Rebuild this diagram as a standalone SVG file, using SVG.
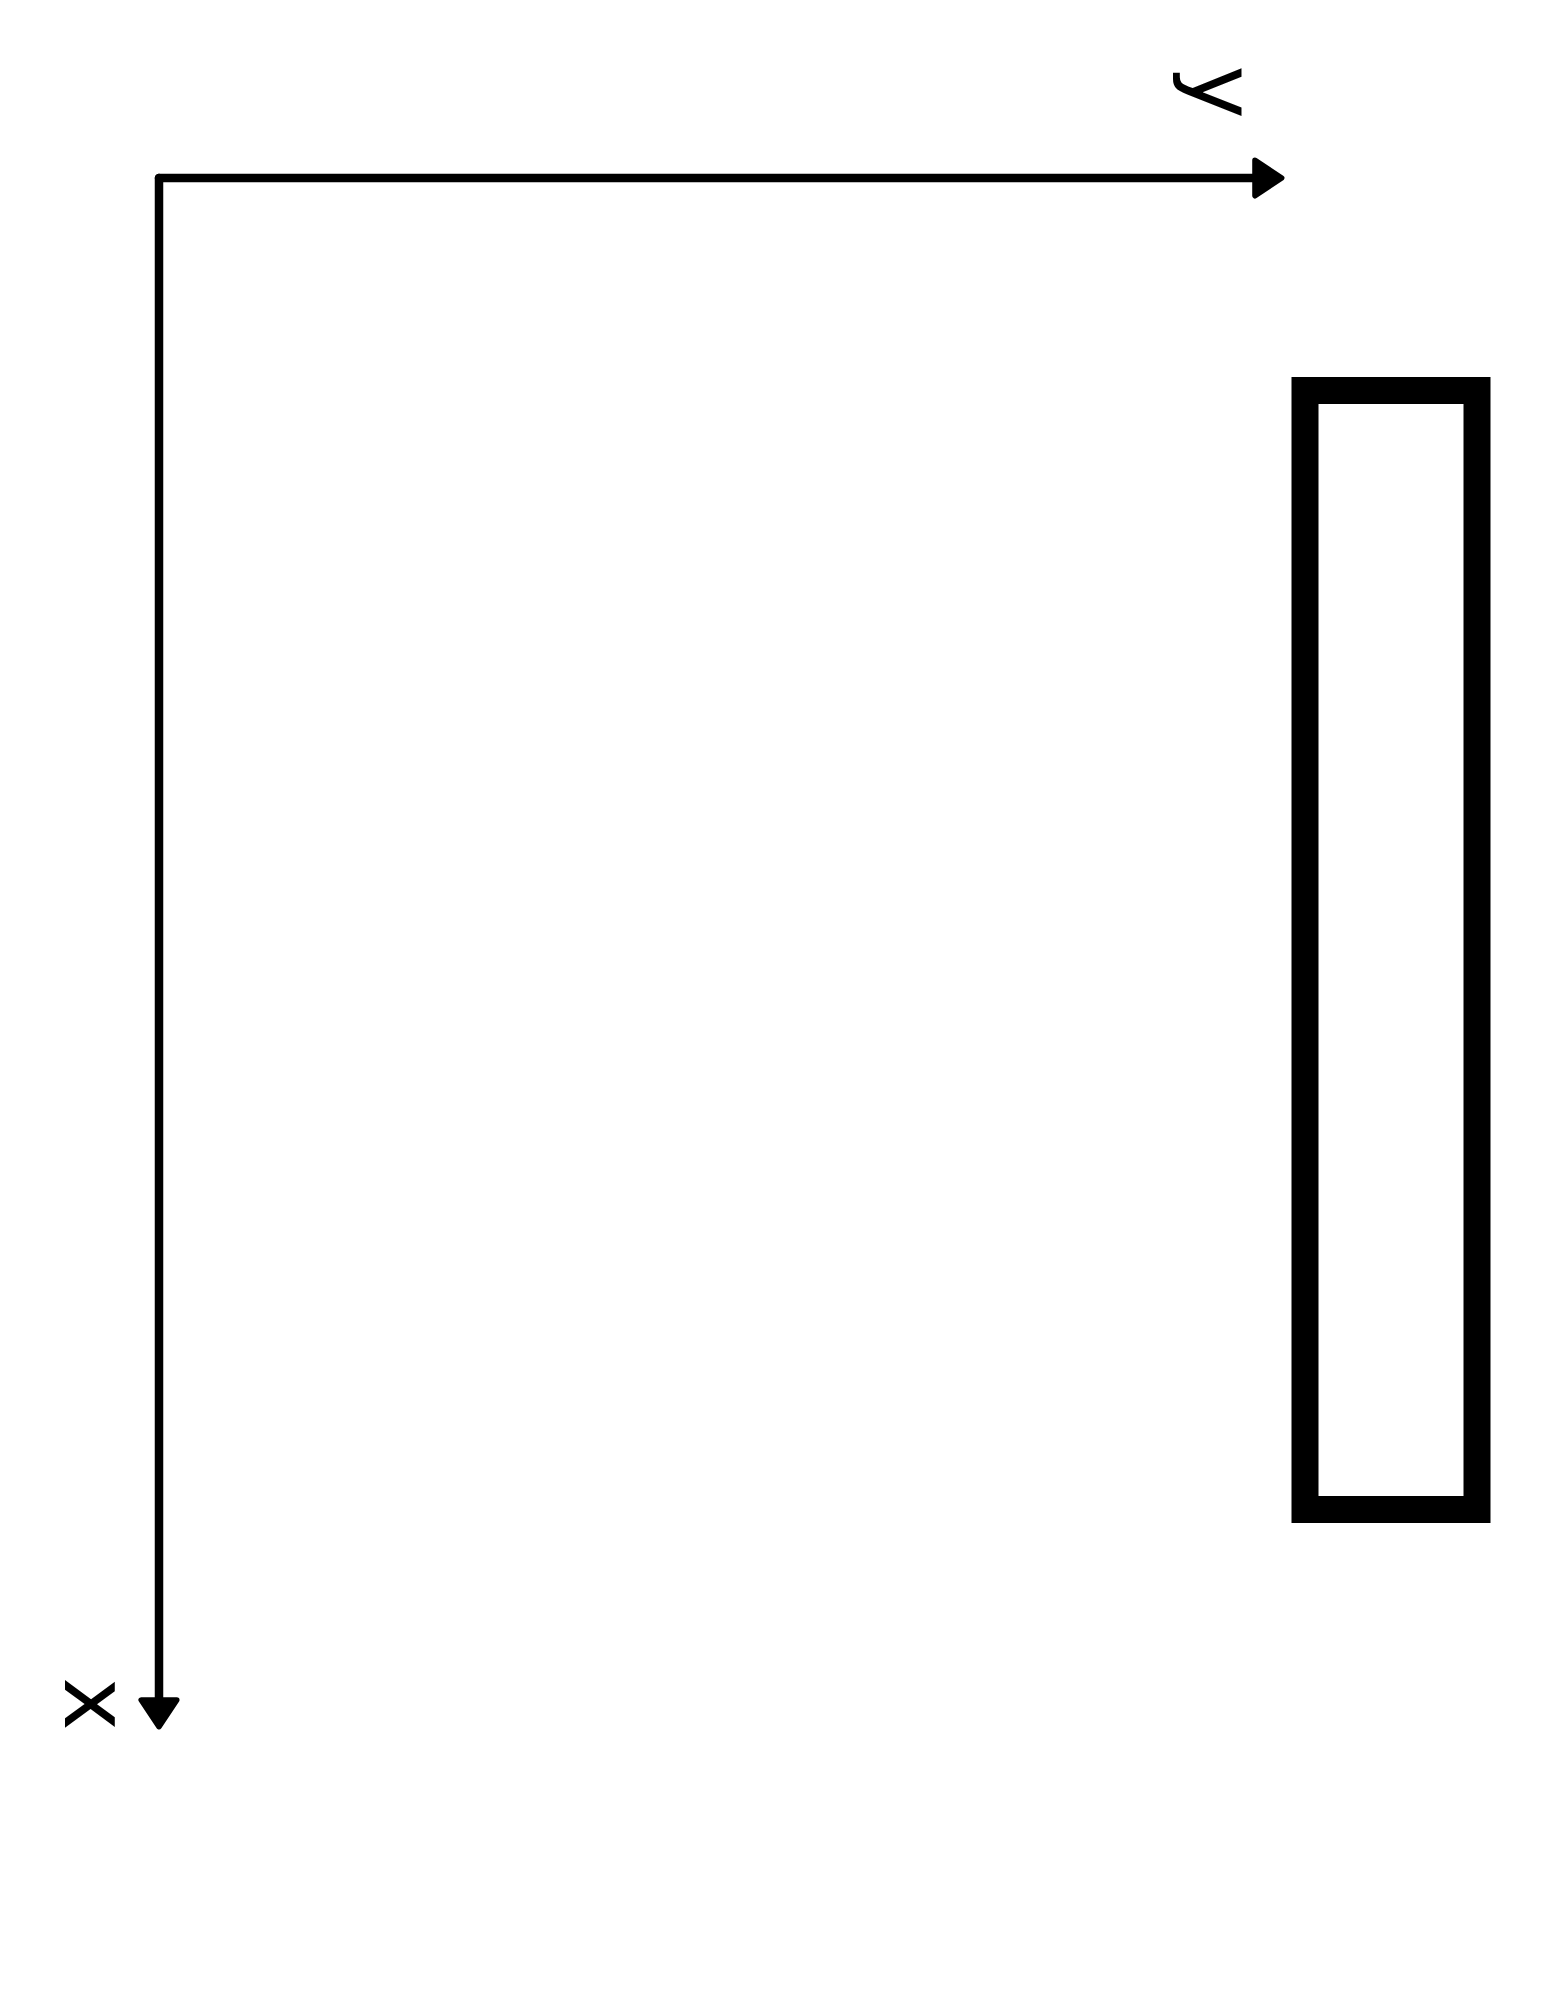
<svg xmlns="http://www.w3.org/2000/svg" width="1545" height="2000" viewBox="0 0 1545 2000">
  <style>
    .axis { stroke: #000; stroke-width: 8.5; fill: none; stroke-linecap: round; }
    .lbl { font-family: "DejaVu Sans", sans-serif; font-size: 90px; fill: #000; text-anchor: middle; }
  </style>
  <defs>
    <marker id="ah" markerUnits="userSpaceOnUse" markerWidth="40" markerHeight="50" viewBox="-4 -22 36 44" refX="0" refY="0" orient="auto" overflow="visible">
      <path d="M0,-16 L24,0 L0,16 Z" fill="#000" stroke="#000" stroke-width="5" stroke-linejoin="round"/>
    </marker>
  </defs>
  <rect width="1545" height="2000" fill="#fff"/>
  <g id="connectors">
    <line class="axis" x1="159" y1="178" x2="1255" y2="178" marker-end="url(#ah)"/>
    <line class="axis" x1="159" y1="178" x2="159" y2="1700" marker-end="url(#ah)"/>
  </g>
  <g id="label-y">
    <text class="lbl" transform="translate(1192,92) rotate(90)">y</text>
  </g>
  <g id="label-x">
    <text class="lbl" transform="translate(65,1704) rotate(90)">x</text>
  </g>
  <g id="box">
    <rect x="1305" y="390.5" width="172" height="1119" fill="none" stroke="#000" stroke-width="27"/>
  </g>
</svg>
